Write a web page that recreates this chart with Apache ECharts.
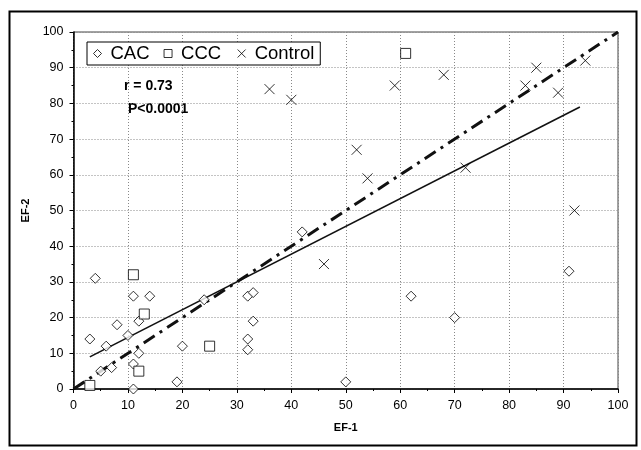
<!DOCTYPE html>
<html>
<head>
<meta charset="utf-8">
<script src="https://cdn.jsdelivr.net/npm/echarts@6/dist/echarts.min.js"></script>
<style>
  html, body { margin: 0; padding: 0; background: #fff; }
  #main { width: 641px; height: 450px; }
</style>
</head>
<body>
<div id="main"></div>
<script>
// values (EF-1, EF-2)
const cac = [
  [3, 14], [4, 31], [5, 5], [6, 12], [7, 6], [8, 18], [10, 15], [11, 26],
  [11, 7], [11, 0], [12, 10], [12, 19], [14, 26], [19, 2], [20, 12], [24, 25],
  [32, 26], [33, 27], [33, 19], [32, 14], [32, 11], [42, 44], [50, 2],
  [62, 26], [70, 20], [91, 33]
];
const ccc = [[3, 1], [11, 32], [13, 21], [12, 5], [25, 12], [61, 94]];
const control = [
  [36, 84], [40, 81], [46, 35], [52, 67], [54, 59], [59, 85], [68, 88],
  [72, 62], [83, 85], [85, 90], [89, 83], [92, 50], [94, 92]
];
const fitLine = [[3, 9], [93, 79]];
const identityLine = [[0, 0], [100, 100]];
const seriesNames = ['CAC', 'CCC', 'Control'];
const stats = ['r = 0.73', 'P<0.0001'];

const font = 'Liberation Sans, Arial, sans-serif';
const crossPath = 'path://M0,0L10,10M10,0L0,10';

const myChart = echarts.init(document.getElementById('main'));

const openMark = {
  color: '#fff',
  borderColor: '#000',
  borderWidth: 1
};

const option = {
  animation: false,
  backgroundColor: '#fff',
  textStyle: { fontFamily: font },
  grid: {
    left: 73.5, right: 23, top: 32, bottom: 61,
    show: true,
    borderColor: '#444',
    borderWidth: 1
  },
  legend: {
    left: 87, top: 42,
    padding: [2, 6, 2, 6],
    itemGap: 14,
    itemWidth: 8,
    itemHeight: 8,
    borderColor: '#000',
    borderWidth: 1,
    backgroundColor: '#fff',
    itemStyle: { borderWidth: 1 },
    textStyle: { fontFamily: font, fontSize: 18.5, color: '#000', padding: [0, 0, 0, 4] },
    data: [
      { name: seriesNames[0], icon: 'diamond' },
      { name: seriesNames[1], icon: 'rect' },
      { name: seriesNames[2], icon: crossPath }
    ]
  },
  xAxis: {
    type: 'value', min: 0, max: 100, interval: 10,
    name: 'EF-1', nameLocation: 'middle', nameGap: 33,
    nameTextStyle: { fontFamily: font, fontWeight: 'bold', fontSize: 11, color: '#000' },
    axisLine: { show: true, lineStyle: { color: '#000', width: 1.5 } },
    axisTick: { show: true, length: 4, lineStyle: { color: '#000' } },
    minorTick: { show: true, splitNumber: 2, length: 2, lineStyle: { color: '#000' } },
    axisLabel: { fontFamily: font, fontSize: 12.5, color: '#000', margin: 10 },
    splitLine: { show: true, lineStyle: { color: '#888', type: [1, 2], width: 1 } }
  },
  yAxis: {
    type: 'value', min: 0, max: 100, interval: 10,
    name: 'EF-2', nameLocation: 'middle', nameGap: 33,
    nameTextStyle: { fontFamily: font, fontWeight: 'bold', fontSize: 11, color: '#000' },
    axisLine: { show: true, lineStyle: { color: '#000', width: 1.5 } },
    axisTick: { show: true, length: 4, lineStyle: { color: '#000' } },
    minorTick: { show: true, splitNumber: 2, length: 2, lineStyle: { color: '#000' } },
    axisLabel: { fontFamily: font, fontSize: 12.5, color: '#000', margin: 10 },
    splitLine: { show: true, lineStyle: { color: '#888', type: [1, 2], width: 1 } }
  },
  graphic: [
    {
      type: 'rect', left: 7, top: 9, silent: true,
      shape: { width: 627, height: 434 },
      style: { fill: 'none', stroke: '#000', lineWidth: 2 }
    },
    {
      type: 'text', left: 124, top: 79,
      style: { text: stats[0], font: 'bold 14px ' + font, fill: '#000' }
    },
    {
      type: 'text', left: 128, top: 102,
      style: { text: stats[1], font: 'bold 14px ' + font, fill: '#000' }
    }
  ],
  series: [
    {
      type: 'line', data: identityLine, symbol: 'none', silent: true,
      lineStyle: { color: '#111', width: 3, type: [13, 6, 3, 6] },
      z: 3
    },
    {
      type: 'line', data: fitLine, symbol: 'none', silent: true,
      lineStyle: { color: '#111', width: 1.6, type: 'solid' },
      z: 3
    },
    {
      name: seriesNames[0], type: 'scatter', data: cac,
      symbol: 'diamond', symbolSize: 10,
      itemStyle: openMark, z: 4
    },
    {
      name: seriesNames[1], type: 'scatter', data: ccc,
      symbol: 'rect', symbolSize: 10,
      itemStyle: openMark, z: 4
    },
    {
      name: seriesNames[2], type: 'scatter', data: control,
      symbol: crossPath, symbolSize: 10,
      itemStyle: { color: 'none', borderColor: '#000', borderWidth: 1 }, z: 4
    }
  ]
};

myChart.setOption(option);
</script>
</body>
</html>
